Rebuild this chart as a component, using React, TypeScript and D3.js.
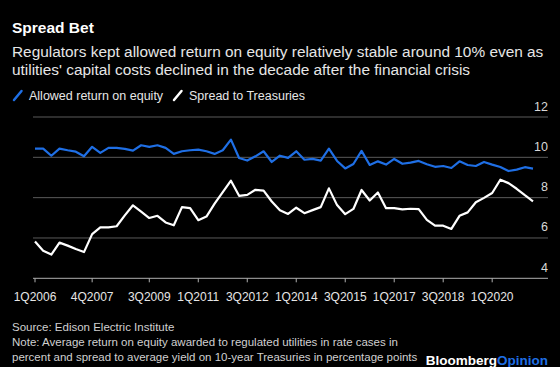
import React from "react";
import * as d3 from "d3";

const categories = [
  "1Q2006","2Q2006","3Q2006","4Q2006","1Q2007","2Q2007","3Q2007","4Q2007",
  "1Q2008","2Q2008","3Q2008","4Q2008","1Q2009","2Q2009","3Q2009","4Q2009",
  "1Q2010","2Q2010","3Q2010","4Q2010","1Q2011","2Q2011","3Q2011","4Q2011",
  "1Q2012","2Q2012","3Q2012","4Q2012","1Q2013","2Q2013","3Q2013","4Q2013",
  "1Q2014","2Q2014","3Q2014","4Q2014","1Q2015","2Q2015","3Q2015","4Q2015",
  "1Q2016","2Q2016","3Q2016","4Q2016","1Q2017","2Q2017","3Q2017","4Q2017",
  "1Q2018","2Q2018","3Q2018","4Q2018","1Q2019","2Q2019","3Q2019","4Q2019",
  "1Q2020","2Q2020","3Q2020","4Q2020","1Q2021","2Q2021",
];

const allowedROE = [
  10.43, 10.43, 10.08, 10.43, 10.35, 10.28, 10.05, 10.52,
  10.22, 10.47, 10.47, 10.42, 10.33, 10.6, 10.52, 10.6,
  10.47, 10.17, 10.3, 10.35, 10.38, 10.3, 10.17, 10.35,
  10.88, 9.97, 9.84, 10.05, 10.3, 9.77, 10.08, 9.97,
  10.3, 9.88, 9.92, 9.84, 10.43, 9.82, 9.45, 9.67,
  10.32, 9.62, 9.8, 9.64, 9.92, 9.68, 9.74, 9.82,
  9.66, 9.53, 9.57, 9.47, 9.8, 9.62, 9.57, 9.77,
  9.64, 9.52, 9.32, 9.39, 9.51, 9.44,
];

const spreadToTreasuries = [
  5.82, 5.37, 5.18, 5.77, 5.62, 5.45, 5.3, 6.19,
  6.53, 6.53, 6.58, 7.12, 7.62, 7.31, 6.99, 7.1,
  6.77, 6.63, 7.53, 7.48, 6.88, 7.06, 7.7, 8.28,
  8.84, 8.09, 8.14, 8.39, 8.35, 7.81, 7.37, 7.19,
  7.5, 7.23, 7.38, 7.53, 8.46, 7.63, 7.18, 7.44,
  8.38, 7.86, 8.26, 7.48, 7.48, 7.42, 7.45, 7.43,
  6.9, 6.61, 6.61, 6.45, 7.1, 7.27, 7.77, 7.99,
  8.23, 8.89, 8.72, 8.44, 8.12, 7.82,
];

const xTickLabels = ["1Q2006","4Q2007","3Q2009","1Q2011","3Q2012","1Q2014","3Q2015","1Q2017","3Q2018","1Q2020"];
const yTicks = [4, 6, 8, 10, 12];

const W = 560;
const H = 367;
const FONT = "'Liberation Sans', Arial, Helvetica, sans-serif";
const BLUE = "#1f6fe5";

export default function App() {
  const x = d3.scalePoint<string>().domain(categories).range([35, 533]);
  const y = d3.scaleLinear().domain([4, 12]).range([278.3, 117]);

  const lineGen = d3
    .line<number>()
    .x((_, i) => x(categories[i]) as number)
    .y((d) => y(d))
    .curve(d3.curveLinear);

  const gridX0 = 33;
  const gridX1 = 548;

  return (
    <div style={{ position: "absolute", left: 0, top: 0 }}>
      <svg width={W} height={H} style={{ display: "block", background: "#000" }} fontFamily={FONT}>
        <rect x={0} y={0} width={W} height={H} fill="#000" />
        <text x={12} y={33} fill="#fff" fontSize={15.5} fontWeight="bold">Spread Bet</text>
        <text x={12} y={56.5} fill="#e6e6e6" fontSize={15.4}>
          Regulators kept allowed return on equity relatively stable around 10% even as
        </text>
        <text x={12} y={74.5} fill="#e6e6e6" fontSize={15.4}>
          utilities' capital costs declined in the decade after the financial crisis
        </text>

        {/* legend */}
        <line x1={14} y1={100} x2={21.5} y2={91} stroke={BLUE} strokeWidth={2.5} strokeLinecap="round" />
        <text x={29} y={100} fill="#e6e6e6" fontSize={12.5}>Allowed return on equity</text>
        <line x1={174} y1={100} x2={181.5} y2={91} stroke="#fff" strokeWidth={2.5} strokeLinecap="round" />
        <text x={189} y={100} fill="#e6e6e6" fontSize={12.5}>Spread to Treasuries</text>

        {/* grid */}
        {yTicks.map((t) => (
          <g key={t}>
            <line
              x1={gridX0}
              x2={gridX1}
              y1={y(t)}
              y2={y(t)}
              stroke={t === 4 ? "#b0b0b0" : "#5a5a5a"}
              strokeWidth={1}
            />
            <text x={gridX1} y={y(t) - 6.5} fill="#d8d8d8" fontSize={12.5} textAnchor="end">
              {t}
            </text>
          </g>
        ))}

        {/* x ticks */}
        {xTickLabels.map((lab) => {
          const xx = x(lab) as number;
          return (
            <g key={lab}>
              <line x1={xx} x2={xx} y1={y(4)} y2={y(4) + 4} stroke="#b0b0b0" strokeWidth={1} />
              <text x={xx} y={301} fill="#e6e6e6" fontSize={12} textAnchor="middle">
                {lab}
              </text>
            </g>
          );
        })}

        {/* lines */}
        <path d={lineGen(spreadToTreasuries) || ""} fill="none" stroke="#fff" strokeWidth={2.2} strokeLinejoin="round" />
        <path d={lineGen(allowedROE) || ""} fill="none" stroke={BLUE} strokeWidth={2.2} strokeLinejoin="round" />

        {/* footer */}
        <text x={12} y={331} fill="#d0d0d0" fontSize={11.5}>Source: Edison Electric Institute</text>
        <text x={12} y={346} fill="#d0d0d0" fontSize={11.5}>
          Note: Average return on equity awarded to regulated utilities in rate cases in
        </text>
        <text x={12} y={361} fill="#d0d0d0" fontSize={11.5}>
          percent and spread to average yield on 10-year Treasuries in percentage points
        </text>
        <text x={548} y={365} fontSize={13.5} fontWeight="bold" textAnchor="end">
          <tspan fill="#fff">Bloomberg</tspan>
          <tspan fill={BLUE}>Opinion</tspan>
        </text>
      </svg>
    </div>
  );
}
